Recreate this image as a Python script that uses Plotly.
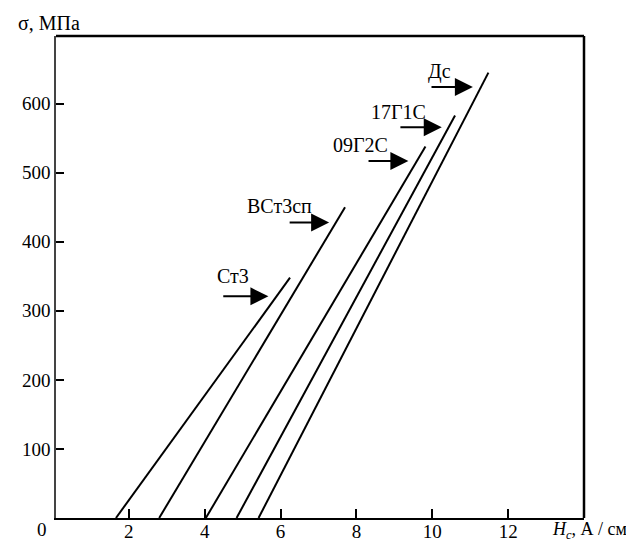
import plotly.graph_objects as go

# Steel grades and their lines (σ vs Hc)
grades = ["Ст3", "ВСт3сп", "09Г2С", "17Г1С", "Дс"]
hc_start = [1.66, 2.80, 4.03, 4.84, 5.42]      # Hc at σ = 0
hc_end = [6.25, 7.70, 9.82, 10.60, 11.48]      # Hc at top of line
sigma_start = [0, 0, 0, 0, 0]
sigma_end = [348, 450, 538, 583, 645]

# Arrow annotations (tail -> tip) and label positions
arrow_x0 = [4.45, 6.20, 8.28, 9.12, 9.94]
arrow_x1 = [5.68, 7.28, 9.37, 10.25, 11.07]
arrow_y = [321, 428, 517, 566, 624]
label_x = [4.74, 5.96, 8.12, 9.12, 10.19]
label_y = [350, 452, 540, 588, 647]

x_ticks = [2, 4, 6, 8, 10, 12]
y_ticks = [100, 200, 300, 400, 500, 600]

FONT = "Liberation Serif"

fig = go.Figure()
for i, g in enumerate(grades):
    fig.add_trace(go.Scatter(
        x=[hc_start[i], hc_end[i]], y=[sigma_start[i], sigma_end[i]],
        mode="lines", line=dict(color="black", width=2),
        name=g, showlegend=False, hoverinfo="skip"))

annotations = []
for i, g in enumerate(grades):
    annotations.append(dict(
        x=arrow_x1[i], y=arrow_y[i], ax=arrow_x0[i], ay=arrow_y[i],
        xref="x", yref="y", axref="x", ayref="y", text="",
        showarrow=True, arrowhead=2, arrowsize=1.8, arrowwidth=2,
        arrowcolor="black"))
    annotations.append(dict(
        x=label_x[i], y=label_y[i], xref="x", yref="y", text=g,
        showarrow=False, font=dict(family=FONT, size=20, color="black")))

annotations.append(dict(
    x=0, y=1, xref="paper", yref="paper", xanchor="left", yanchor="bottom",
    xshift=-40, yshift=0, text="σ, МПа", showarrow=False,
    font=dict(family=FONT, size=20, color="black")))
annotations.append(dict(
    x=1, y=0, xref="paper", yref="paper", xanchor="left", yanchor="top",
    xshift=-34, yshift=1, text="<i>H<sub>c</sub></i>, А / см", showarrow=False,
    font=dict(family=FONT, size=18, color="black")))
annotations.append(dict(
    x=0, y=0, xref="paper", yref="paper", xanchor="center", yanchor="top",
    xshift=-14, yshift=1, text="0", showarrow=False,
    font=dict(family=FONT, size=19, color="black")))

fig.update_layout(
    width=634, height=547,
    margin=dict(l=48, r=58, t=28, b=37, autoexpand=False),
    paper_bgcolor="white", plot_bgcolor="white",
    annotations=annotations,
    shapes=[dict(type="line", xref="paper", yref="paper", x0=1, x1=1, y0=0, y1=1,
                 line=dict(color="black", width=2.5)),
            dict(type="line", xref="paper", yref="paper", x0=0, x1=1, y0=1, y1=1,
                 line=dict(color="black", width=2.5))],
    xaxis=dict(range=[0.08, 14.0], tickvals=x_ticks, ticktext=[str(v) for v in x_ticks],
               ticks="inside", ticklen=9, tickwidth=1.5, tickcolor="black",
               showline=True, linecolor="black", linewidth=2, showgrid=False,
               zeroline=False, automargin=False, ticklabelstandoff=-5,
               tickfont=dict(family=FONT, size=19, color="black")),
    yaxis=dict(range=[0, 698], tickvals=y_ticks, ticktext=[str(v) for v in y_ticks],
               ticks="inside", ticklen=8, tickwidth=1.5, tickcolor="black",
               showline=True, linecolor="#444", linewidth=1.5, showgrid=False,
               zeroline=False, automargin=False,
               tickfont=dict(family=FONT, size=19, color="black")),
)

fig.write_html("out.html")
